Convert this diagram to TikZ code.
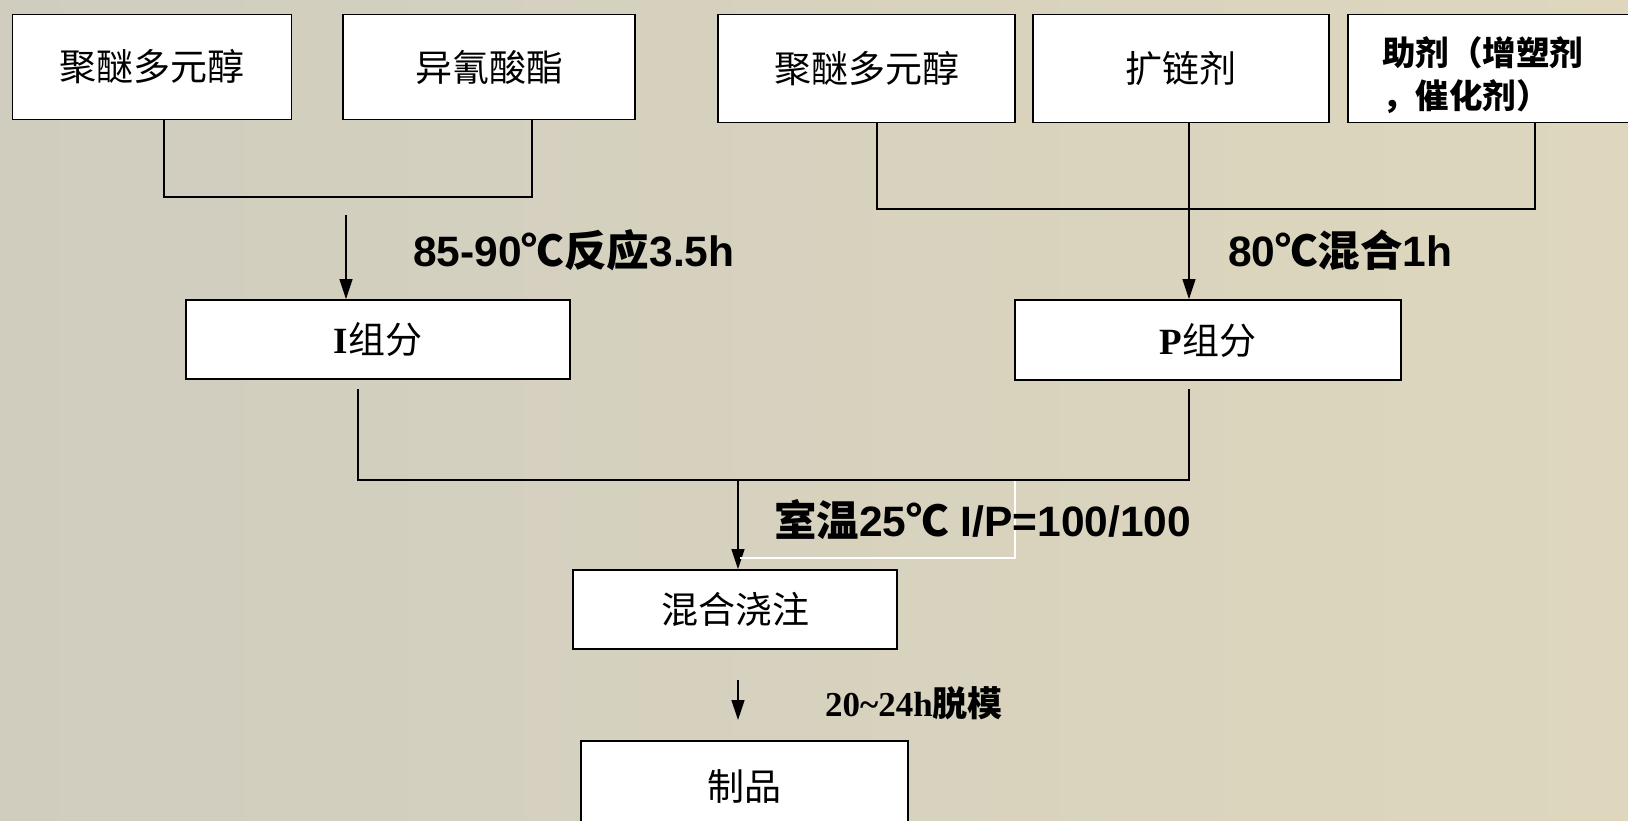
\documentclass[tikz,border=0pt]{standalone}
\usepackage{fontspec}
\setmainfont{Liberation Serif}
\newfontfamily\cjk{Noto Sans CJK SC}
\newfontfamily\lsans{Liberation Sans}
\usetikzlibrary{arrows.meta}
\definecolor{bgl}{RGB}{208,205,191}
\definecolor{bgr}{RGB}{222,215,190}
\tikzset{
  box/.style={draw=black, fill=white, line width=1.8pt, inner sep=0pt,
    font=\cjk\fontsize{37}{42}\selectfont},
  conn/.style={line width=1.4pt, draw=black},
  arr/.style={conn, -{Triangle[length=20pt,width=13pt]}},
  lab/.style={anchor=west, inner sep=0pt, font=\bfseries\fontsize{42.5}{48}\selectfont},
  slab/.style={anchor=west, inner sep=0pt, font=\bfseries\fontsize{35}{40}\selectfont},
}
\begin{document}
\begin{tikzpicture}[x=1pt,y=-1pt]
\useasboundingbox (0,0) rectangle (1628,821);
\clip (0,0) rectangle (1628,821);
\shade[left color=bgl, right color=bgr] (0,0) rectangle (1628,821);

% top boxes
\node[box, minimum width=279pt, minimum height=105pt] (b1) at (152,67) {聚醚多元醇};
\node[box, minimum width=292pt, minimum height=105pt] (b2) at (489,67) {异氰酸酯};
\node[box, minimum width=297pt, minimum height=108pt] (b3) at (866.5,68.5) {聚醚多元醇};
\node[box, minimum width=296pt, minimum height=108pt] (b4) at (1181,68.5) {扩链剂};
\node[box, minimum width=300pt, minimum height=108pt] (b5) at (1498,68.5) {};
\node[anchor=west, inner sep=0pt, align=left, font=\cjk\bfseries\fontsize{33.5}{43}\selectfont] (b5t) at (1382,75) {助剂（增塑剂\\，催化剂）};

% middle boxes
\node[box, minimum width=384pt, minimum height=79pt] (bi) at (378,339.5) {{\rmfamily\bfseries I}组分};
\node[box, minimum width=386pt, minimum height=80pt] (bp) at (1208,340) {{\rmfamily\bfseries P}组分};
\node[box, minimum width=324pt, minimum height=79pt] (bm) at (735,609.5) {混合浇注};
\node[box, minimum width=327pt, minimum height=92pt] (bz) at (744.5,787) {制品};

% left merge
\coordinate (l1) at (164,197);
\coordinate (l2) at (532,197);
\draw[conn] (b1.south -| l1) -- (l1) -- (l2) -- (b2.south -| l2);
\coordinate (a1) at (346,215);
\draw[arr] (a1) -- (a1 |- bi.north);
\node[lab] (t1) at (413,250) {{\lsans 85-90}{\cjk ℃反应}{\lsans 3.5h}};

% right merge
\coordinate (r1) at (877,209);
\coordinate (r2) at (1535,209);
\draw[conn] (b3.south -| r1) -- (r1) -- (r2) -- (b5.south -| r2);
\coordinate (a2) at (1189,0);
\draw[arr] (b4.south -| a2) -- (bp.north -| a2);
\node[lab] (t2) at (1228,250) {{\lsans 80}{\cjk ℃混合}{\lsans 1h}};

% bottom merge
\coordinate (m1) at (358,389);
\coordinate (m2) at (358,480);
\coordinate (m3) at (1189,480);
\coordinate (m4) at (1189,389);
\draw[conn] (m1) -- (m2) -- (m3) -- (m4);
\coordinate (a3) at (738,480);
\draw[arr] (a3) -- (a3 |- bm.north);
\coordinate (w1) at (1015,481);
\coordinate (w2) at (1015,558);
\coordinate (w3) at (740,558);
\draw[white, line width=1.2pt] (w1) -- (w2) -- (w3);
\node[lab] (t3) at (774,520) {{\cjk 室温}{\lsans 25}{\cjk ℃}{\lsans\ I/P=100/100}};

\coordinate (a4) at (738,680);
\draw[arr] (a4) -- (738,720);
\node[slab] (t4) at (825,703) {{\rmfamily 20\textasciitilde24h}{\cjk 脱模}};
\end{tikzpicture}
\end{document}
